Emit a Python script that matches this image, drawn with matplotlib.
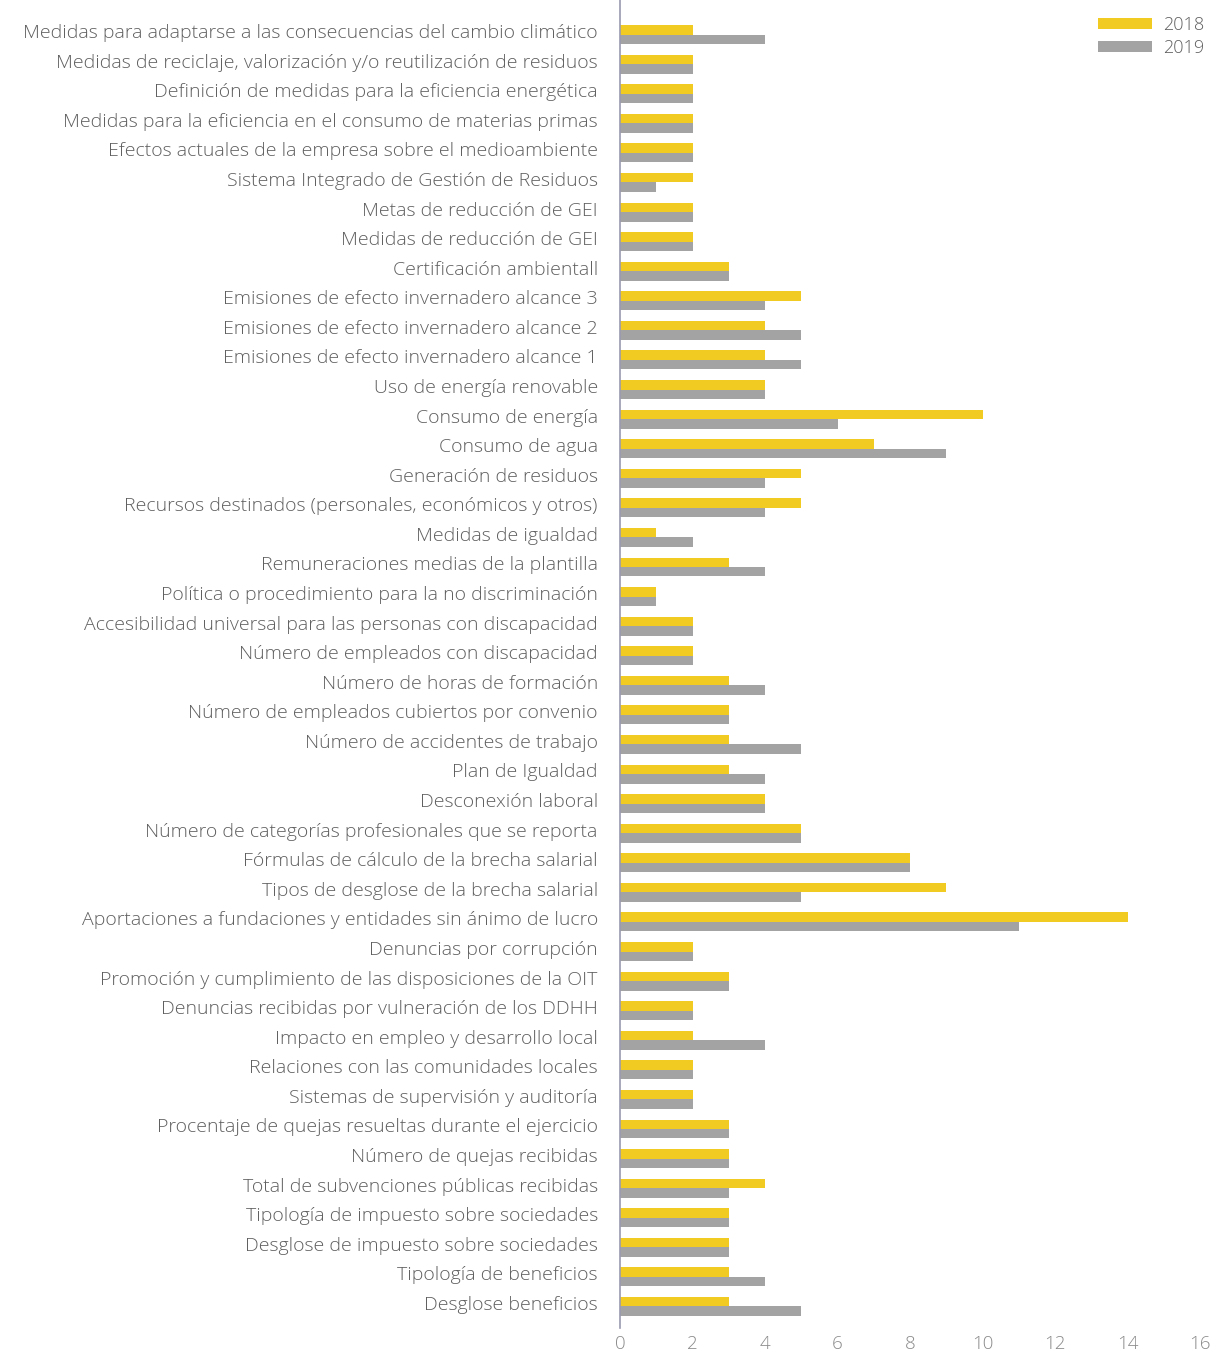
import matplotlib
matplotlib.use("Agg")
import matplotlib.pyplot as plt
import numpy as np

categories = [
    "Medidas para adaptarse a las consecuencias del cambio climático",
    "Medidas de reciclaje, valorización y/o reutilización de residuos",
    "Definición de medidas para la eficiencia energética",
    "Medidas para la eficiencia en el consumo de materias primas",
    "Efectos actuales de la empresa sobre el medioambiente",
    "Sistema Integrado de Gestión de Residuos",
    "Metas de reducción de GEI",
    "Medidas de reducción de GEI",
    "Certificación ambientall",
    "Emisiones de efecto invernadero alcance 3",
    "Emisiones de efecto invernadero alcance 2",
    "Emisiones de efecto invernadero alcance 1",
    "Uso de energía renovable",
    "Consumo de energía",
    "Consumo de agua",
    "Generación de residuos",
    "Recursos destinados (personales, económicos y otros)",
    "Medidas de igualdad",
    "Remuneraciones medias de la plantilla",
    "Política o procedimiento para la no discriminación",
    "Accesibilidad universal para las personas con discapacidad",
    "Número de empleados con discapacidad",
    "Número de horas de formación",
    "Número de empleados cubiertos por convenio",
    "Número de accidentes de trabajo",
    "Plan de Igualdad",
    "Desconexión laboral",
    "Número de categorías profesionales que se reporta",
    "Fórmulas de cálculo de la brecha salarial",
    "Tipos de desglose de la brecha salarial",
    "Aportaciones a fundaciones y entidades sin ánimo de lucro",
    "Denuncias por corrupción",
    "Promoción y cumplimiento de las disposiciones de la OIT",
    "Denuncias recibidas por vulneración de los DDHH",
    "Impacto en empleo y desarrollo local",
    "Relaciones con las comunidades locales",
    "Sistemas de supervisión y auditoría",
    "Procentaje de quejas resueltas durante el ejercicio",
    "Número de quejas recibidas",
    "Total de subvenciones públicas recibidas",
    "Tipología de impuesto sobre sociedades",
    "Desglose de impuesto sobre sociedades",
    "Tipología de beneficios",
    "Desglose beneficios",
]

values_2018 = [2, 2, 2, 2, 2, 2, 2, 2, 3, 5, 4, 4, 4, 10, 7, 5, 5, 1, 3, 1, 2, 2,
               3, 3, 3, 3, 4, 5, 8, 9, 14, 2, 3, 2, 2, 2, 2, 3, 3, 4, 3, 3, 3, 3]
values_2019 = [4, 2, 2, 2, 2, 1, 2, 2, 3, 4, 5, 5, 4, 6, 9, 4, 4, 2, 4, 1, 2, 2,
               4, 3, 5, 4, 4, 5, 8, 5, 11, 2, 3, 2, 4, 2, 2, 3, 3, 3, 3, 3, 4, 5]

series_labels = ["2018", "2019"]
x_ticks = [0, 2, 4, 6, 8, 10, 12, 14, 16]

YELLOW = "#F2CB22"
GRAY = "#A3A3A3"
TEXT = "#5f5f5f"
FONT = "Open Sans"

fig = plt.figure(figsize=(12.29, 13.51), dpi=100)
ax = fig.add_axes([0.5045, 0.017, 0.472, 0.983])

y = np.arange(len(categories))
h = 0.32
ax.barh(y - 0.04, values_2018, height=h, color=YELLOW, label=series_labels[0])
ax.barh(y + 0.28, values_2019, height=h, color=GRAY, label=series_labels[1])

ax.set_ylim(43.85, -1.05)
ax.set_xlim(0, 16)
ax.set_yticks(y)
ax.set_yticklabels(categories, fontsize=14, color=TEXT, family=FONT, fontweight="light")
ax.set_xticks(x_ticks)
ax.set_xticklabels([str(t) for t in x_ticks], fontsize=13.5, color="#8a8a8a",
                   family=FONT, fontweight="light")
ax.tick_params(axis="both", length=0)
ax.tick_params(axis="y", pad=16)
ax.tick_params(axis="x", pad=5)

for s in ["top", "right", "bottom"]:
    ax.spines[s].set_visible(False)
ax.spines["left"].set_color("#9a9ab0")
ax.spines["left"].set_linewidth(1.2)

leg = ax.legend(loc="upper right", bbox_to_anchor=(1.035, 1.0), frameon=False,
                handlelength=3.0, handleheight=0.55, fontsize=13,
                labelspacing=0.25, handletextpad=0.6)
for t in leg.get_texts():
    t.set_color(TEXT)
    t.set_family(FONT)
    t.set_fontweight("light")

fig.savefig("out.png", dpi=100)
